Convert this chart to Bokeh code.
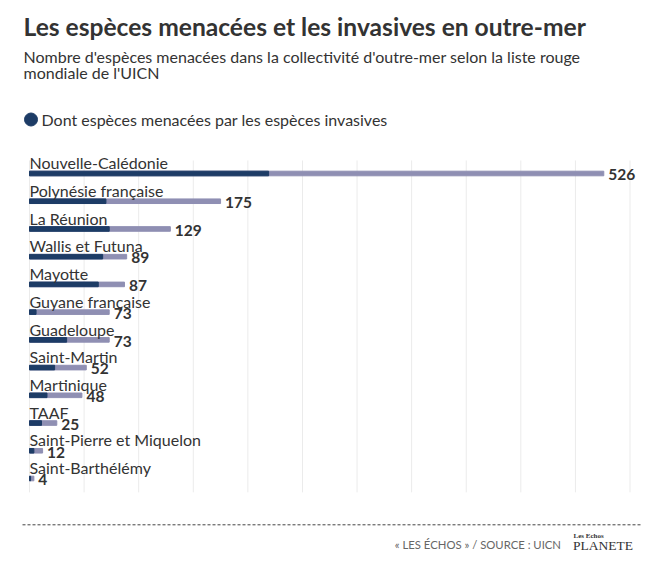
from bokeh.plotting import figure
from bokeh.models import Range1d, Label, ColumnDataSource
from bokeh.core.properties import value
from bokeh.embed import file_html
from bokeh.resources import INLINE

# ---- data ----
categories = ["Nouvelle-Calédonie", "Polynésie française", "La Réunion", "Wallis et Futuna",
              "Mayotte", "Guyane française", "Guadeloupe", "Saint-Martin", "Martinique",
              "TAAF", "Saint-Pierre et Miquelon", "Saint-Barthélémy"]
total_menacees = [526, 175, 129, 89, 87, 73, 73, 52, 48, 25, 12, 4]
menacees_invasives = [219, 70, 73, 67, 63, 6, 34, 23, 16, 11, 4, 1]
tick_values = [0, 50, 100, 150, 200, 250, 300, 350, 400, 450, 500, 550]

title = "Les espèces menacées et les invasives en outre-mer"
subtitle1 = "Nombre d'espèces menacées dans la collectivité d'outre-mer selon la liste rouge"
subtitle2 = "mondiale de l'UICN"
legend_label = "Dont espèces menacées par les espèces invasives"
source_text = "« LES ÉCHOS » / SOURCE : UICN"

# ---- layout ----
W, H = 642, 558
FONT = "Lato"
DARK = "#1d3c66"
LIGHT = "#8f8fb3"
TXT = "#333333"

x_left_px, x_right_px = 29.0, 629.5     # px of 0 and 550
pxu = (x_right_px - x_left_px) / 550.0
y_first_px, y_last_px = 173.0, 478.0    # px of first/last bar
n = len(categories)
pyu = (y_last_px - y_first_px) / (n - 1)

x0 = -x_left_px / pxu
x1 = (W - x_left_px) / pxu
y_bot = (H - y_first_px) / pyu
y_top = -y_first_px / pyu

def px2x(px):
    return x0 + px / pxu

def py2y(py):
    return y_top + py / pyu

p = figure(width=W, height=H, x_range=Range1d(x0, x1), y_range=Range1d(y_bot, y_top),
           output_backend="svg", toolbar_location=None, x_axis_location=None,
           y_axis_location=None, min_border=0, outline_line_color=None, title=None,
           background_fill_color="white", border_fill_color="white")
p.grid.visible = False

idx = list(range(n))
src = ColumnDataSource(dict(y=idx, cat=categories, total=total_menacees,
                            inv=menacees_invasives, lab=[str(v) for v in total_menacees]))

# grid lines
p.segment(x0=tick_values, x1=tick_values, y0=[-0.47] * len(tick_values),
          y1=[n - 0.5] * len(tick_values), line_color="#ebebeb", line_width=1)

bar_h = 4.6 / pyu
p.hbar(y="y", left=0, right="total", height=bar_h, source=src, color=LIGHT)
p.hbar(y="y", left=0, right="inv", height=bar_h, source=src, color=DARK)

p.text(x=0, y="y", text="cat", source=src, y_offset=-10.8, text_baseline="middle",
       text_align="left", text_font=value(FONT), text_font_size="16px", text_color=TXT)
p.text(x="total", y="y", text="lab", source=src, x_offset=4.5, y_offset=1.3,
       text_baseline="middle", text_align="left", text_font=value(FONT),
       text_font_size="15.5px", text_font_style="bold", text_color=TXT)

def lab(x, y_px, text, size, style="normal", color=TXT, align="left", font=FONT):
    p.add_layout(Label(x=x, y=H - y_px, x_units="screen", y_units="screen", text=text,
                       text_font=font, text_font_size=size, text_font_style=style,
                       text_color=color, text_align=align, text_baseline="middle"))

lab(23, 26.3, title, "24.6px", "bold")
lab(23, 56.3, subtitle1, "16px")
lab(23, 71.9, subtitle2, "16px")

# legend
p.scatter(x=[px2x(30.5)], y=[py2y(119)], marker="circle", size=13, color=DARK)
lab(41, 118.5, legend_label, "16px")

# footer
p.segment(x0=[px2x(22)], x1=[px2x(642)], y0=[py2y(524.3)], y1=[py2y(524.3)],
          line_color="#444444", line_width=1, line_dash="3 2")
lab(560.5, 543.8, source_text, "11.3px", color="#666666", align="right")
lab(573, 535.5, "Les Echos", "7px", "bold", color="#333333", font="Liberation Serif")
lab(572.5, 544.8, "PLANETE", "13.5px", color="#333333", font="Liberation Serif")

open("out.html", "w").write(file_html(p, INLINE))
